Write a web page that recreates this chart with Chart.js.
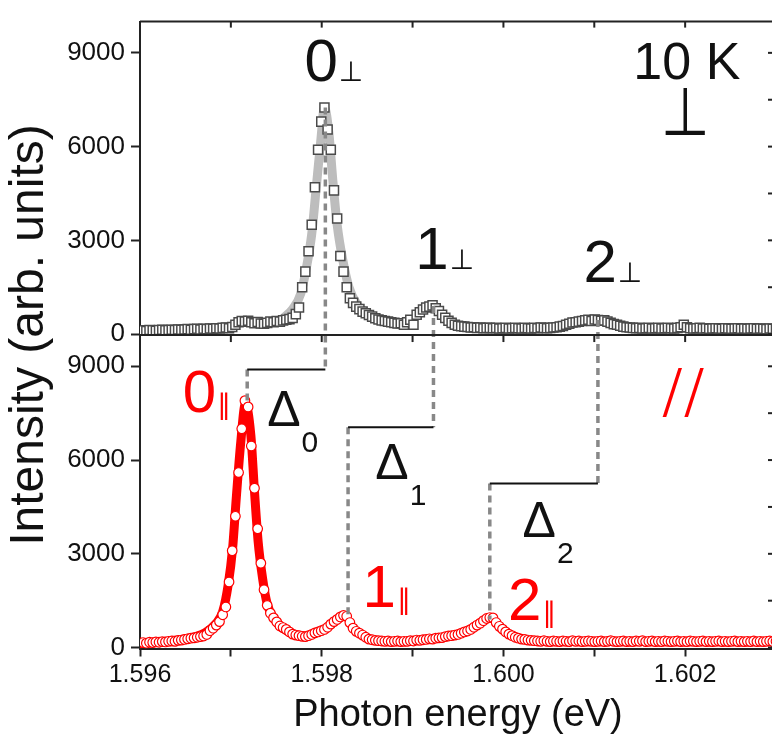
<!DOCTYPE html>
<html>
<head>
<meta charset="utf-8">
<script src="https://cdn.jsdelivr.net/npm/chart.js@4.4.1/dist/chart.umd.min.js"></script>
<style>
  html, body { margin: 0; padding: 0; overflow: hidden; background: #fff; }
  #wrap { width: 772px; height: 736px; overflow: hidden; }
  canvas { display: block; }
</style>
</head>
<body>
<div id="wrap"><canvas id="PLChart" width="790" height="736"></canvas></div>
<script>
// photon energy grid of the measured spectra (eV)
const eStart = 1.596;
const eStep = 0.000035;

// perpendicular polarisation, top panel (arb. units)
const perpIntensity = [
  110,120,100,130,120,110,130,140,120,130,
  140,130,150,140,150,160,140,160,170,150,
  170,160,180,170,190,180,200,210,190,230,
  300,380,420,400,430,380,350,390,340,330,
  360,400,380,420,400,440,460,480,520,640,
  850,1500,2000,2650,3500,4700,5900,6800,7250,6550,
  5900,4600,3700,2500,2000,1500,1150,1000,880,800,
  720,670,610,560,510,470,440,420,400,380,
  360,340,350,300,380,460,300,620,700,790,
  850,880,920,830,740,620,520,430,360,300,
  270,250,240,230,210,220,200,210,190,200,
  200,190,200,180,190,200,180,190,200,190,
  180,200,190,180,200,190,210,200,190,200,
  210,220,240,260,300,330,370,380,400,420,
  440,460,420,470,450,430,440,400,360,320,
  300,270,240,220,210,200,190,200,180,190,
  200,180,190,200,180,190,200,190,180,200,
  220,300,220,190,180,190,200,180,190,170,
  180,190,180,170,190,180,170,180,190,170,
  180,170,180,190,170,180,170,160,180,170,
  160
];

// parallel polarisation, bottom panel (arb. units)
const parIntensity = [
  150,160,140,170,160,180,170,190,180,200,
  210,200,230,240,260,280,300,310,330,350,
  370,420,540,620,720,830,1050,1300,2100,3100,
  4200,5600,7000,7900,7700,6450,5100,3800,2700,1850,
  1350,1100,950,820,690,640,580,500,430,400,
  380,360,350,380,420,470,500,540,580,650,
  750,830,900,980,1030,1000,800,620,520,460,
  400,330,270,250,230,220,210,200,210,190,
  200,210,190,200,200,220,210,240,230,250,
  260,280,270,300,310,320,350,370,380,400,
  420,460,500,530,580,650,720,780,860,930,
  960,950,800,680,590,500,430,380,330,300,
  270,260,240,230,220,210,200,220,200,190,
  210,200,190,210,200,190,220,200,210,190,
  200,210,200,190,200,210,190,200,220,200,
  190,200,210,190,200,190,210,200,220,190,
  200,210,190,200,190,210,200,190,200,210,
  190,200,190,210,200,190,200,210,190,200,
  190,200,210,190,200,190,200,210,190,200,
  190,200,190,210,190,200,190,200,210,190,
  200
];

// fitted line shapes
const perpFitEnergy = [1.59757, 1.59768, 1.59777, 1.59783, 1.59789, 1.59794, 1.59799, 1.59803,
  1.59808, 1.59812, 1.59817, 1.59823, 1.59830, 1.59839, 1.59849];
const perpFitIntensity = [500, 800, 1300, 2100, 3200, 4700, 6200, 7250,
  6400, 5000, 3500, 2400, 1500, 950, 650];
const parFitEnergy = [1.59600, 1.59623, 1.59645, 1.59661, 1.59672, 1.59683, 1.59691, 1.59697,
  1.59702, 1.59706, 1.59711, 1.59716, 1.59722, 1.59726, 1.59730, 1.59735, 1.59740, 1.59748,
  1.59758, 1.59771, 1.59782];
const parFitIntensity = [150, 190, 260, 350, 480, 750, 1150, 2000,
  3200, 4800, 6600, 7800, 6800, 5000, 3400, 2200, 1400, 900,
  600, 420, 380];

// peak positions and the splitting steps
const perpPeakEnergy = [1.59804, 1.59923, 1.60104];
const perpPeakIntensity = [7250, 900, 450];
const parPeakEnergy = [1.59718, 1.59829, 1.59985];
const parPeakIntensity = [7900, 1000, 900];
const stepLevel = [8900, 7050, 5250];

// labels (energy, intensity of the text baseline)
const peakNames = ['0', '1', '2'];
const perpLabelEnergy = [1.59781, 1.59903, 1.60088];
const perpLabelIntensity = [8100, 2070, 1660];
const parLabelEnergy = [1.59647, 1.59845, 1.60005];
const parLabelIntensity = [7550, 1290, 880];
const deltaLabelEnergy = [1.59740, 1.59859, 1.60021];
const deltaLabelIntensity = [7080, 5380, 3550];

// axes
const xTickValues = [1.596, 1.597, 1.598, 1.599, 1.600, 1.601, 1.602, 1.603];
const xTickLabels = ['1.596', '', '1.598', '', '1.600', '', '1.602', ''];
const yTickValues = [0, 1500, 3000, 4500, 6000, 7500, 9000];
const yTickLabels = ['0', '', '3000', '', '6000', '', '9000'];

const RED = '#ff0000';
const INK = '#111111';
const SANS = "'Liberation Sans', Arial, sans-serif";
const SYM = "'DejaVu Sans', sans-serif";

const energy = perpIntensity.map((v, i) => +(eStart + i * eStep).toFixed(6));
const toPoints = (xs, ys) => xs.map((e, i) => ({ x: e, y: ys[i] }));

function yAxis() {
  return {
    type: 'linear',
    position: 'left',
    stack: 'panels',
    stackWeight: 1,
    min: -30,
    max: 10000,
    afterBuildTicks: s => { s.ticks = yTickValues.map(v => ({ value: v })); },
    afterFit: s => { s.width = 140; },
    ticks: {
      color: INK, padding: 6, font: { family: SANS, size: 26 },
      callback: (v, i) => yTickLabels[i]
    },
    grid: { drawOnChartArea: false, tickLength: 9, tickWidth: 2, tickColor: '#222' },
    border: { color: '#222', width: 2 }
  };
}

const decorations = {
  id: 'decorations',
  afterDatasetsDraw(chart) {
    const { ctx, chartArea: a, scales } = chart;
    const x = scales.x, yb = scales.y, yt = scales.yTop;
    const seg = (x1, y1, x2, y2) => { ctx.beginPath(); ctx.moveTo(x1, y1); ctx.lineTo(x2, y2); ctx.stroke(); };
    ctx.save();

    // dashed guides from each peak to the step level
    ctx.strokeStyle = '#888888';
    ctx.lineWidth = 3.5;
    ctx.setLineDash([7, 5]);
    perpPeakEnergy.forEach((e, k) => {
      const xp = x.getPixelForValue(e);
      const xq = x.getPixelForValue(parPeakEnergy[k]);
      const ys = yb.getPixelForValue(stepLevel[k]);
      seg(xp, yt.getPixelForValue(perpPeakIntensity[k]), xp, ys);
      seg(xq, ys, xq, yb.getPixelForValue(parPeakIntensity[k]));
    });

    // horizontal steps
    ctx.setLineDash([]);
    ctx.strokeStyle = INK;
    ctx.lineWidth = 2;
    perpPeakEnergy.forEach((e, k) => {
      const ys = yb.getPixelForValue(stepLevel[k]);
      seg(x.getPixelForValue(parPeakEnergy[k]), ys, x.getPixelForValue(e), ys);
    });

    // panel frame: top edge, panel boundary, right edge and mirror ticks
    ctx.strokeStyle = '#222';
    seg(a.left, a.top, a.right, a.top);
    seg(a.left, yt.bottom, a.right, yt.bottom);
    seg(a.right, a.top, a.right, a.bottom);
    xTickValues.forEach(v => {
      const xp = x.getPixelForValue(v);
      seg(xp, a.top, xp, a.top + 6);
      seg(xp, yt.bottom, xp, yt.bottom + 7);
    });
    yTickValues.forEach(v => {
      [yt, yb].forEach(s => {
        const yp = s.getPixelForValue(v);
        seg(a.right, yp, a.right - 8, yp);
      });
    });
    ctx.restore();
  },
  afterDraw(chart) {
    const { ctx, chartArea: a, scales } = chart;
    const x = scales.x, yb = scales.y, yt = scales.yTop;
    ctx.save();
    ctx.textBaseline = 'alphabetic';
    ctx.textAlign = 'left';

    const put = (text, font, color, px, py) => {
      ctx.font = font; ctx.fillStyle = color; ctx.fillText(text, px, py);
      return ctx.measureText(text).width;
    };

    peakNames.forEach((n, k) => {
      // perpendicular labels (top panel)
      let px = x.getPixelForValue(perpLabelEnergy[k]);
      let py = yt.getPixelForValue(perpLabelIntensity[k]);
      let w = put(n, '60px ' + SANS, INK, px, py);
      put('\u22A5', '28px ' + SYM, INK, px + w + 1, py);

      // parallel labels (bottom panel)
      px = x.getPixelForValue(parLabelEnergy[k]);
      py = yb.getPixelForValue(parLabelIntensity[k]);
      w = put(n, '60px ' + SANS, RED, px, py);
      put('\u2225', '28px ' + SYM, RED, px + w + 1, py + 2);

      // splitting labels
      px = x.getPixelForValue(deltaLabelEnergy[k]);
      py = yb.getPixelForValue(deltaLabelIntensity[k]);
      w = put('\u0394', '50px ' + SANS, INK, px, py);
      put(n, '30px ' + SANS, INK, px + w + 1, py + 26);
    });

    // temperature and polarisation marks
    put('10 K', '52px ' + SANS, INK, x.getPixelForValue(1.60143), yt.getPixelForValue(8160));

    ctx.save();
    ctx.translate(x.getPixelForValue(1.60200), yt.getPixelForValue(6380));
    ctx.scale(1, 1.2);
    ctx.textAlign = 'center';
    put('\u22A5', '56px ' + SYM, INK, 0, 0);
    ctx.restore();

    ctx.save();
    ctx.translate(x.getPixelForValue(1.60178), yb.getPixelForValue(7420));
    ctx.scale(1, 1.45);
    ctx.letterSpacing = '9px';
    put('//', 'italic 46px ' + SANS, RED, 0, 0);
    ctx.restore();

    // shared y-axis title
    ctx.translate(30, (a.top + a.bottom) / 2);
    ctx.rotate(-Math.PI / 2);
    ctx.textAlign = 'center';
    ctx.textBaseline = 'middle';
    put('Intensity (arb. units)', '48px ' + SANS, INK, 0, 0);
    ctx.restore();
  }
};

const ctx = document.getElementById('PLChart').getContext('2d');
new Chart(ctx, {
  type: 'scatter',
  data: {
    datasets: [
      {
        label: 'perp fit', yAxisID: 'yTop', order: 2,
        data: toPoints(perpFitEnergy, perpFitIntensity),
        showLine: true, borderColor: '#bdbdbd', borderWidth: 9, pointRadius: 0,
        tension: 0.4, cubicInterpolationMode: 'monotone'
      },
      {
        label: 'perp', yAxisID: 'yTop', order: 1,
        data: toPoints(energy, perpIntensity),
        pointStyle: 'rect', pointRadius: 6.4, borderWidth: 1.5,
        borderColor: '#4a4a4a', backgroundColor: '#ffffff'
      },
      {
        label: 'par fit', yAxisID: 'y', order: 2,
        data: toPoints(parFitEnergy, parFitIntensity),
        showLine: true, borderColor: RED, borderWidth: 9, pointRadius: 0,
        tension: 0.4, cubicInterpolationMode: 'monotone'
      },
      {
        label: 'par', yAxisID: 'y', order: 1,
        data: toPoints(energy, parIntensity),
        pointStyle: 'circle', pointRadius: 4.8, borderWidth: 1.2,
        borderColor: RED, backgroundColor: '#ffffff'
      }
    ]
  },
  options: {
    responsive: false,
    animation: false,
    devicePixelRatio: 1,
    layout: { padding: { top: 10, right: 14, left: 0, bottom: 0 } },
    plugins: { legend: { display: false }, tooltip: { enabled: false } },
    scales: {
      x: {
        type: 'linear',
        min: 1.596,
        max: 1.603,
        afterBuildTicks: s => { s.ticks = xTickValues.map(v => ({ value: v })); },
        afterFit: s => { s.height = 87.5; },
        ticks: {
          autoSkip: false, maxRotation: 0, padding: 4, color: INK,
          font: { family: SANS, size: 25 },
          callback: (v, i) => xTickLabels[i]
        },
        grid: { drawOnChartArea: false, tickLength: 8, tickWidth: 2, tickColor: '#222' },
        border: { color: '#222', width: 2 },
        title: {
          display: true, text: 'Photon energy (eV)', color: INK, padding: 0,
          font: { family: SANS, size: 38, lineHeight: 1.1 }
        }
      },
      y: yAxis(),
      yTop: yAxis()
    }
  },
  plugins: [decorations]
});
</script>
</body>
</html>
